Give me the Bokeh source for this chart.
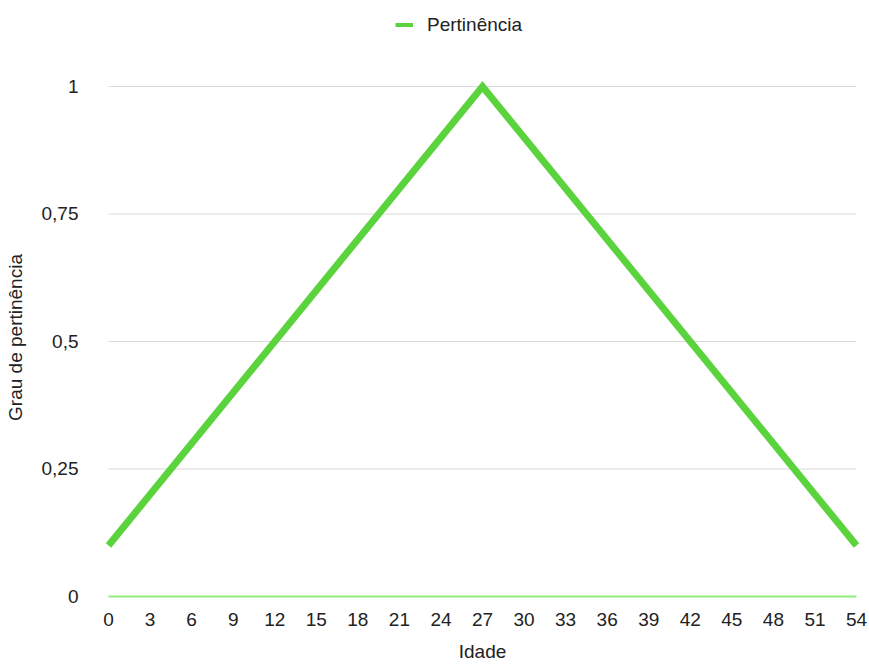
from bokeh.plotting import figure
from bokeh.models import Range1d, Legend, LegendItem, FixedTicker
from bokeh.layouts import column
from bokeh.embed import file_html
from bokeh.resources import INLINE

idade = [0, 27, 54]
pertinencia = [0.1, 1.0, 0.1]
x_ticks = list(range(0, 55, 3))
y_ticks = [0, 0.25, 0.5, 0.75, 1]
y_labels = ["0", "0,25", "0,5", "0,75", "1"]
series_name = "Pertinência"

FONT = "Liberation Sans"
FS = "19px"
LINE_COLOR = "#5BD33D"

X0, X1 = x_ticks[0], x_ticks[-1]
PX_PER_X = 748 / (X1 - X0)
PAD_X = 6 / PX_PER_X
PAD_Y = 8 / 511

# legend strip (its line sits outside the visible range; only the legend shows)
top = figure(width=869, height=50, output_backend="svg", toolbar_location=None,
             x_axis_type=None, y_axis_type=None, min_border=0,
             x_range=Range1d(0, 54), y_range=Range1d(5, 6))
top.outline_line_color = None
top.grid.visible = False
lr = top.line(idade, pertinencia, line_color=LINE_COLOR, line_width=7)
legend = Legend(items=[LegendItem(label=series_name, renderers=[lr])],
                orientation="horizontal", location=(293, 14),
                border_line_color=None, background_fill_alpha=0,
                label_text_font=FONT, label_text_font_size=FS, label_text_color="#222222",
                glyph_width=18, glyph_height=4, label_standoff=14, margin=0, padding=0)
top.add_layout(legend, "center")

p = figure(width=869, height=614, output_backend="svg", toolbar_location=None,
           x_range=Range1d(X0 - PAD_X, X1 + PAD_X), y_range=Range1d(0, 1 + PAD_Y),
           min_border_left=102, min_border_right=7, min_border_top=28, min_border_bottom=67)
p.outline_line_color = None
p.background_fill_color = "white"
p.border_fill_color = "white"

# horizontal gridlines limited to the data's x extent
grid_y = [t for t in y_ticks if t > 0]
p.segment(x0=[X0] * len(grid_y), x1=[X1] * len(grid_y), y0=grid_y, y1=grid_y,
          line_color="#D9D9D9", line_width=1)

r = p.line(idade, pertinencia, line_color=LINE_COLOR, line_width=7, line_join="miter")

p.xaxis.ticker = FixedTicker(ticks=x_ticks)
p.yaxis.ticker = FixedTicker(ticks=y_ticks)
p.yaxis.major_label_overrides = {t: l for t, l in zip(y_ticks, y_labels)}

for ax in (p.xaxis[0], p.yaxis[0]):
    ax.major_tick_line_color = None
    ax.minor_tick_line_color = None
    ax.major_label_text_font = FONT
    ax.major_label_text_font_size = FS
    ax.major_label_text_color = "#222222"
    ax.axis_label_text_font = FONT
    ax.axis_label_text_font_size = FS
    ax.axis_label_text_font_style = "normal"
    ax.axis_label_text_color = "#222222"

p.xaxis.axis_line_color = "#8EEE78"
p.xaxis.axis_line_width = 2
p.xaxis.bounds = (X0, X1)
p.yaxis.axis_line_color = None
p.xaxis.axis_label = "Idade"
p.yaxis.axis_label = "Grau de pertinência"
p.xaxis.major_label_standoff = 10
p.yaxis.major_label_standoff = 18
p.xaxis.axis_label_standoff = 12
p.yaxis.axis_label_standoff = 13

p.xgrid.grid_line_color = None
p.ygrid.grid_line_color = None

layout = column(top, p, spacing=0)
open("out.html", "w").write(file_html(layout, INLINE))
